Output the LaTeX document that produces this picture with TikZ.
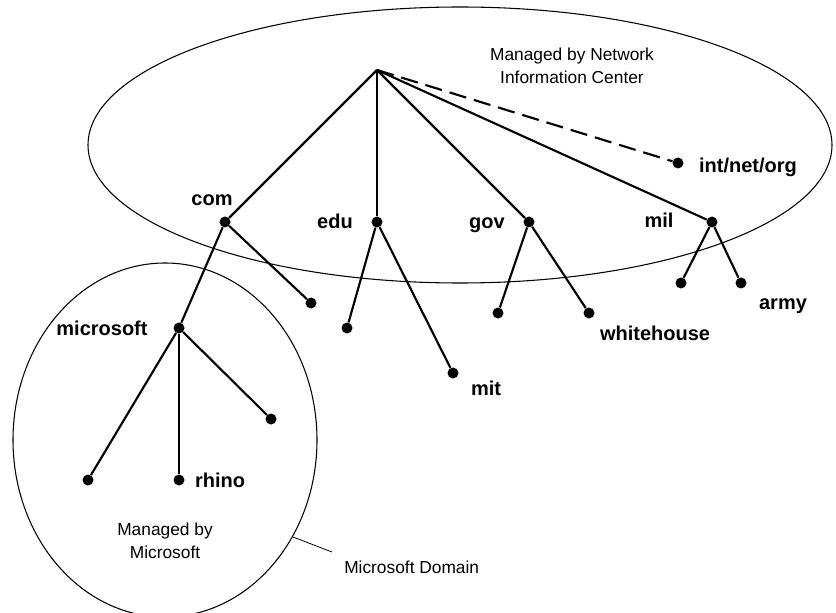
\documentclass[tikz,border=0pt]{standalone}
\usepackage{fontspec}
\setmainfont{Liberation Sans}
\usetikzlibrary{positioning}
\tikzset{>=latex}

\begin{document}
\begin{tikzpicture}[x=0.75pt, y=-0.75pt,
    hostdot/.style={circle, fill, inner sep=0pt, minimum size=8.25pt},
    lbl/.style={font=\fontsize{15}{17}\selectfont\bfseries, inner sep=0pt, anchor=base},
    note/.style={font=\fontsize{13}{17.25}\selectfont, align=center, inner sep=0pt},
    branch/.style={line width=1.6pt},
    zoneline/.style={line width=0.8pt}]
    \useasboundingbox (0,0) rectangle (836,613);

    % Domains
    \draw[zoneline] (460,145) ellipse [x radius=279pt, y radius=103.5pt];
    \draw[zoneline] (165,440) ellipse [x radius=114pt, y radius=132.75pt];

    % Nodes
    \coordinate (root) at (377,70);
    \node[hostdot] (ino) at (678,163) {};
    \node[hostdot] (com) at (225,222) {};
    \node[hostdot] (edu) at (377,222) {};
    \node[hostdot] (gov) at (529,222) {};
    \node[hostdot] (mil) at (712,222) {};
    \node[hostdot] (ms) at (179,328) {};
    \node[hostdot] (comb) at (311,303) {};
    \node[hostdot] (edua) at (347,328) {};
    \node[hostdot] (mit) at (453,373) {};
    \node[hostdot] (gova) at (498,313) {};
    \node[hostdot] (wh) at (589,313) {};
    \node[hostdot] (mila) at (681,283) {};
    \node[hostdot] (army) at (741,283) {};
    \node[hostdot] (msa) at (88,480) {};
    \node[hostdot] (rhino) at (179,480) {};
    \node[hostdot] (msc) at (271,419) {};

    % Labels
    \node[lbl] (inolbl) at (748,173) {int/net/org};
    \node[lbl] (comlbl) at (212,206) {com};
    \node[lbl] (edulbl) at (335,229) {edu};
    \node[lbl] (govlbl) at (487,229) {gov};
    \node[lbl] (millbl) at (659,228) {mil};
    \node[lbl] (mslbl) at (102,335) {microsoft};
    \node[lbl] (rhinolbl) at (220,487) {rhino};
    \node[lbl] (mitlbl) at (486,395) {mit};
    \node[lbl] (whlbl) at (655,340) {whitehouse};
    \node[lbl] (armylbl) at (783,310) {army};
    \node[note] (nic) at (572,66) {Managed by Network\\Information Center};
    \node[note] (msnote) at (165,541) {Managed by\\Microsoft};
    \node[note, anchor=west] (msdom) at (344,567) {Microsoft Domain};

    % Branches
    \draw[branch] (root) -- (com);
    \draw[branch] (root) -- (edu);
    \draw[branch] (root) -- (gov);
    \draw[branch] (root) -- (mil);
    \draw[branch, dash pattern=on 13pt off 6pt] (root) -- (ino);
    \draw[branch] (com) -- (ms);
    \draw[branch] (com) -- (comb);
    \draw[branch] (edu) -- (edua);
    \draw[branch] (edu) -- (mit);
    \draw[branch] (gov) -- (gova);
    \draw[branch] (gov) -- (wh);
    \draw[branch] (mil) -- (mila);
    \draw[branch] (mil) -- (army);
    \draw[branch] (ms) -- (msa);
    \draw[branch] (ms) -- (rhino);
    \draw[branch] (ms) -- (msc);

    % Leader
    \coordinate (lead) at (293,537);
    \coordinate (leadend) at (332,552);
    \draw[line width=0.6pt] (lead) -- (leadend);
\end{tikzpicture}
\end{document}
